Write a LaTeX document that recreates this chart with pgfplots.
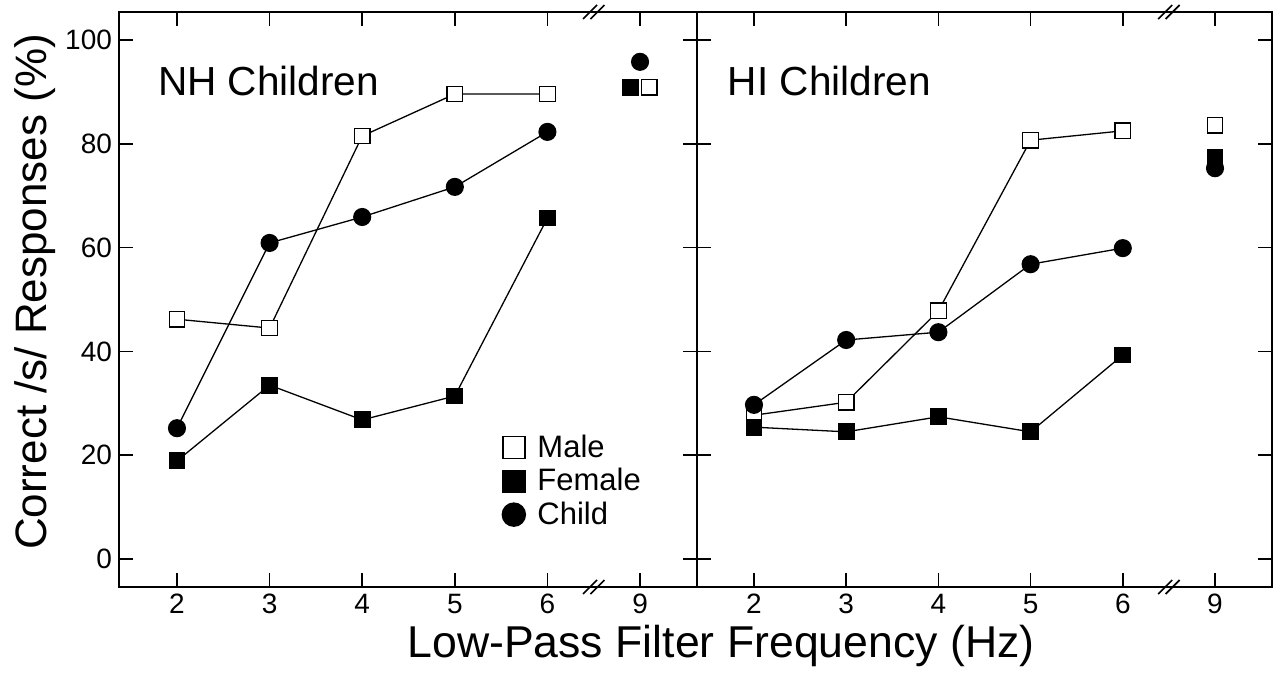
\documentclass[border=0pt]{standalone}
\usepackage{pgfplots}
\pgfplotsset{compat=1.18}
\usepackage{fontspec}
\setmainfont{Liberation Sans}
\tikzset{brk/.style={line width=0.8pt}}
\begin{document}
\begin{tikzpicture}
\path[use as bounding box] (-59.5pt,-45pt) rectangle (581.5pt,293.5pt);
\pgfplotsset{
  panel/.style={
    scale only axis, height=287.5pt,
    ymin=-5.4, ymax=105.4,
    xtick={2,3,4,5,6,7}, xticklabels={2,3,4,5,6,9},
    ytick={0,20,40,60,80,100},
    tick align=inside, major tick length=7pt,
    axis line style={line width=0.85pt},
    every tick/.style={line width=0.85pt, black},
    clip=false,
    tick label style={font=\fontsize{14}{16}\selectfont},
    /pgf/number format/assume math mode=true,
  },
  male/.style={black, line width=0.65pt, mark=square*, mark size=3.9pt, mark options={fill=white, draw=black, line width=0.65pt}},
  female/.style={black, line width=0.65pt, mark=square*, mark size=3.9pt, mark options={fill=black, draw=black}},
  child/.style={black, line width=0.65pt, mark=*, mark size=4.2pt, mark options={fill=black, draw=black}},
}
% ---------- NH Children ----------
\begin{axis}[panel, at={(0pt,0pt)}, anchor=south west, width=289pt,
  xmin=1.374, xmax=7.615,
  legend style={at={(0.652,0.279)}, anchor=north west, draw=none, fill=none,
    font=\fontsize{15.5}{18}\selectfont, row sep=0pt,
    /tikz/every odd column/.append style={column sep=4pt}},
  legend cell align=left]
\addlegendimage{only marks, male, mark size=5.5pt}
\addlegendentry{Male}
\addlegendimage{only marks, female, mark size=5.5pt}
\addlegendentry{Female}
\addlegendimage{only marks, child, mark size=5.8pt}
\addlegendentry{Child}
\addplot[male, forget plot] coordinates {(2,46.2) (3,44.5) (4,81.5) (5,89.6) (6,89.6)};
\addplot[female, forget plot] coordinates {(2,18.9) (3,33.5) (4,26.8) (5,31.4) (6,65.7)};
\addplot[child, forget plot] coordinates {(2,25.2) (3,60.9) (4,65.9) (5,71.7) (6,82.3)};
\addplot[male, only marks, forget plot] coordinates {(7.1,90.9)};
\addplot[female, only marks, forget plot] coordinates {(6.9,90.9)};
\addplot[child, only marks, forget plot] coordinates {(7.0,95.8)};
\node[anchor=west, font=\fontsize{20.3}{24}\selectfont] at (axis cs:1.72,92.1) {NH Children};
\draw[brk] ([xshift=-1.85pt]axis cs:6.5,105.4) ++(-3.5pt,-3.5pt) -- ++(7pt,7pt);
\draw[brk] ([xshift=1.85pt]axis cs:6.5,105.4) ++(-3.5pt,-3.5pt) -- ++(7pt,7pt);
\draw[brk] ([xshift=-1.85pt]axis cs:6.5,-5.4) ++(-3.5pt,-3.5pt) -- ++(7pt,7pt);
\draw[brk] ([xshift=1.85pt]axis cs:6.5,-5.4) ++(-3.5pt,-3.5pt) -- ++(7pt,7pt);
\end{axis}
% ---------- HI Children ----------
\begin{axis}[panel, at={(289pt,0pt)}, anchor=south west, width=287.5pt,
  xmin=1.382, xmax=7.618, yticklabels={}]
\addplot[male] coordinates {(2,27.7) (3,30.2) (4,47.8) (5,80.7) (6,82.5)};
\addplot[female] coordinates {(2,25.4) (3,24.5) (4,27.4) (5,24.5) (6,39.3)};
\addplot[child] coordinates {(2,29.7) (3,42.2) (4,43.7) (5,56.8) (6,59.9)};
\addplot[male, only marks] coordinates {(7,83.6)};
\addplot[female, only marks] coordinates {(7,77.3)};
\addplot[child, only marks] coordinates {(7,75.3)};
\node[anchor=west, font=\fontsize{20.3}{24}\selectfont] at (axis cs:1.64,92.1) {HI Children};
\draw[brk] ([xshift=-1.85pt]axis cs:6.5,105.4) ++(-3.5pt,-3.5pt) -- ++(7pt,7pt);
\draw[brk] ([xshift=1.85pt]axis cs:6.5,105.4) ++(-3.5pt,-3.5pt) -- ++(7pt,7pt);
\draw[brk] ([xshift=-1.85pt]axis cs:6.5,-5.4) ++(-3.5pt,-3.5pt) -- ++(7pt,7pt);
\draw[brk] ([xshift=1.85pt]axis cs:6.5,-5.4) ++(-3.5pt,-3.5pt) -- ++(7pt,7pt);
\end{axis}
\node[font=\fontsize{22.3}{26}\selectfont] at (301pt,-29.5pt) {Low-Pass Filter Frequency (Hz)};
\node[rotate=90, font=\fontsize{22}{26}\selectfont] at (-42pt,147.5pt) {Correct /s/ Responses (\%)};
\end{tikzpicture}
\end{document}
